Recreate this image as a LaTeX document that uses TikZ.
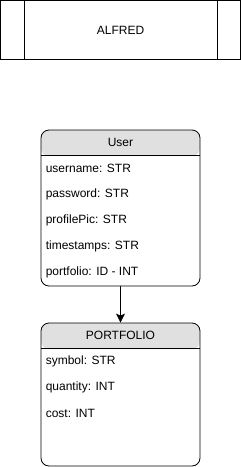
\documentclass[tikz,border=0pt]{standalone}
\usepackage{fontspec}
\setmainfont{Liberation Sans}
\usetikzlibrary{arrows.meta, positioning, calc}

\begin{document}
\begin{tikzpicture}[
    x=1pt, y=-1pt,
    every node/.style={font=\fontsize{12}{14}\selectfont},
    title/.style={rectangle, draw, line width=0.8pt, minimum width=240pt,
                  minimum height=59pt, inner sep=0pt},
    entity/.style={rectangle, draw, line width=0.8pt, rounded corners=8pt,
                   minimum width=159pt,
                   path picture={\fill[black!12] (path picture bounding box.north west)
                       rectangle ([yshift=-26pt]path picture bounding box.north east);}},
    field/.style={anchor=west, inner sep=0pt},
    arrow/.style={-{Stealth[length=9pt, width=9pt, inset=2pt]}, line width=0.8pt},
]
\useasboundingbox (0,0) rectangle (241,467);

% Title bar
\node[title] (alfred) at (120.5,30) {ALFRED};
\draw[line width=0.8pt] ([xshift=24pt]alfred.north west) -- ([xshift=24pt]alfred.south west);
\draw[line width=0.8pt] ([xshift=-24pt]alfred.north east) -- ([xshift=-24pt]alfred.south east);

% User table
\node[entity, minimum height=156pt] (user) at (120.5,208) {};
\draw[line width=0.8pt] ([yshift=-26pt]user.north west) -- ([yshift=-26pt]user.north east);
\node at ([yshift=-13pt]user.north) {User};
\foreach \txt [count=\i from 0] in {username: STR, password: STR, profilePic: STR,
                                    timestamps: STR, portfolio: ID - INT}
  \node[field] (user-\i) at ($(user.north west)+(5,{39+26*\i})$) {\txt};

% Portfolio table
\node[entity, minimum height=143pt] (portfolio) at (120.5,394.5) {};
\draw[line width=0.8pt] ([yshift=-26pt]portfolio.north west) -- ([yshift=-26pt]portfolio.north east);
\node at ([yshift=-13pt]portfolio.north) {PORTFOLIO};
\foreach \txt [count=\i from 0] in {symbol: STR, quantity: INT, cost: INT}
  \node[field] (portfolio-\i) at ($(portfolio.north west)+(5,{39+26*\i})$) {\txt};

% Link
\draw[arrow] (user) -- (portfolio);
\end{tikzpicture}
\end{document}
